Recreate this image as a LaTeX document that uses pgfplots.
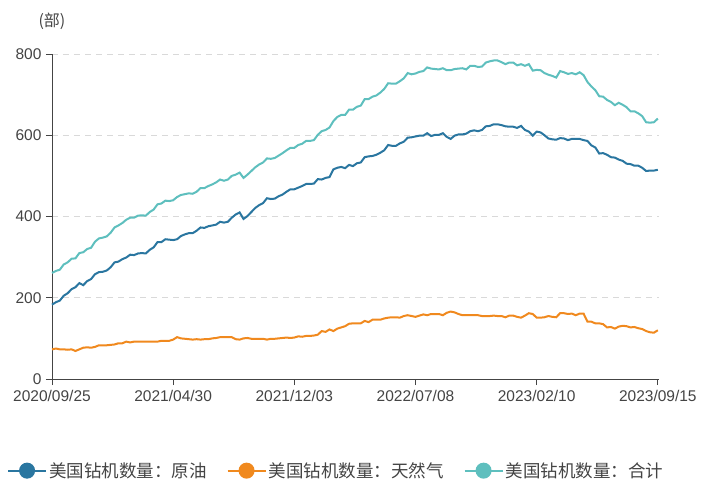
\documentclass[border=0pt]{standalone}
\usepackage{pgfplots}
\pgfplotsset{compat=1.18}
\usepackage{pgfplotstable}
\usepackage{fontspec}
\setmainfont{Liberation Sans}
\newfontfamily\cjk{Noto Sans CJK SC}
\definecolor{oilc}{HTML}{2A76A0}
\definecolor{gasc}{HTML}{F0891E}
\definecolor{totc}{HTML}{5EBFBE}
\definecolor{axc}{HTML}{444444}
\pgfplotstableread{
w oil gas total
0 183 73 261
1 189 75 266
2 193 73 269
3 205 73 282
4 211 72 287
5 221 73 296
6 226 69 297
7 236 73 310
8 231 77 312
9 241 78 320
10 246 77 323
11 258 79 338
12 263 83 346
13 264 83 348
14 267 83 351
15 275 84 360
16 287 85 373
17 289 88 378
18 295 88 384
19 299 92 392
20 306 90 397
21 305 92 397
22 309 92 402
23 310 92 403
24 309 92 402
25 318 92 411
26 324 92 417
27 337 92 430
28 337 94 432
29 344 94 439
30 343 94 438
31 342 97 440
32 344 103 448
33 352 100 453
34 356 99 455
35 359 98 457
36 359 97 456
37 365 98 461
38 373 97 470
39 372 98 470
40 376 98 475
41 378 100 479
42 380 101 484
43 387 103 491
44 385 103 488
45 387 103 491
46 397 103 500
47 405 98 503
48 410 97 508
49 394 100 495
50 401 101 503
51 411 99 512
52 421 99 521
53 428 99 528
54 433 99 533
55 445 97 543
56 443 99 542
57 444 99 544
58 450 100 550
59 454 101 556
60 461 102 563
61 467 101 569
62 467 102 569
63 471 105 576
64 475 104 579
65 480 106 586
66 480 106 586
67 481 107 588
68 492 109 601
69 491 118 610
70 495 116 613
71 497 122 619
72 516 118 635
73 520 124 645
74 522 127 650
75 519 130 650
76 527 136 663
77 524 137 663
78 531 137 670
79 533 137 673
80 546 143 689
81 548 140 689
82 549 146 695
83 552 146 698
84 557 146 705
85 563 149 714
86 576 151 728
87 574 152 727
88 574 152 727
89 580 151 733
90 584 155 740
91 594 157 753
92 595 155 750
93 597 153 752
94 599 156 756
95 599 159 758
96 605 157 767
97 598 160 764
98 601 160 763
99 601 160 762
100 605 157 765
101 596 163 760
102 591 166 760
103 599 164 763
104 602 160 764
105 602 157 765
106 604 157 762
107 610 157 771
108 612 157 771
109 610 157 768
110 613 155 769
111 622 155 779
112 623 155 782
113 627 156 784
114 627 155 784
115 625 155 780
116 622 152 775
117 621 156 779
118 621 156 779
119 618 153 772
120 623 151 775
121 613 156 771
122 609 162 775
123 599 160 759
124 609 151 761
125 607 151 760
126 600 152 753
127 592 155 749
128 590 153 746
129 589 152 742
130 593 162 758
131 592 162 755
132 588 160 751
133 591 161 753
134 591 157 750
135 591 161 755
136 588 161 748
137 586 141 731
138 575 141 720
139 570 137 711
140 555 137 696
141 556 135 695
142 552 127 687
143 546 128 682
144 545 124 674
145 540 129 680
146 537 131 675
147 530 130 669
148 529 127 659
149 525 128 659
150 525 125 654
151 520 123 647
152 512 118 632
153 513 115 631
154 513 114 632
155 515 120 641
}\rigs
\begin{document}
\begin{tikzpicture}
\useasboundingbox (0,0) rectangle (703pt,482pt);
\begin{axis}[
  at={(52pt,103pt)}, anchor=south west,
  scale only axis, width=607pt, height=325pt,
  xmin=0, xmax=155.3, ymin=0, ymax=800,
  axis lines=left, axis line style={-, draw=axc, line width=0.9pt},
  xtick={0,31,62,93,124,155},
  xticklabels={2020/09/25,2021/04/30,2021/12/03,2022/07/08,2023/02/10,2023/09/15},
  ytick={0,200,400,600,800},
  tick align=outside, major tick length=6pt,
  tick style={draw=axc, line width=0.9pt},
  ymajorgrids, grid style={dash pattern=on 6pt off 5pt, draw=black!15, line width=0.7pt},
  /pgf/number format/assume math mode=true,
  ticklabel style={font=\fontsize{15.5}{18}\selectfont, text=axc},
  xticklabel style={yshift=-2pt},
  yticklabel style={xshift=-1pt},
  clip=false,
  legend style={at={(rel axis cs:0.468,-0.282)}, anchor=center, draw=none, fill=none,
    legend columns=3, font=\cjk\fontsize{17.5}{20}\selectfont, text=axc,
    /tikz/every even column/.append style={column sep=18pt}},
  legend image code/.code={\draw[#1, line width=2pt] (0pt,0pt) -- (38pt,0pt); \fill[#1] (19pt,0pt) circle (7pt);},
]
\addplot[oilc, line width=2pt] table[x=w, y=oil] {\rigs};
\addlegendentry{美国钻机数量：原油}
\addplot[gasc, line width=2pt] table[x=w, y=gas] {\rigs};
\addlegendentry{美国钻机数量：天然气}
\addplot[totc, line width=2pt] table[x=w, y=total] {\rigs};
\addlegendentry{美国钻机数量：合计}
\node[font=\cjk\fontsize{16}{18}\selectfont, text=axc] at (rel axis cs:0,1.10) {(部)};
\end{axis}
\end{tikzpicture}
\end{document}
